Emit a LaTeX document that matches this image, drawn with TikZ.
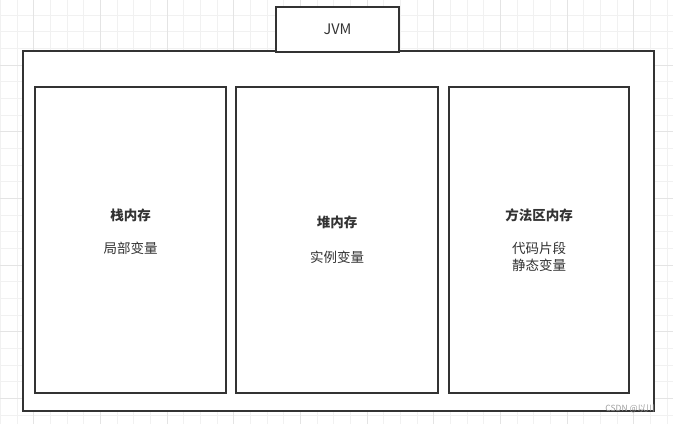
\documentclass[tikz,border=0pt]{standalone}
\usepackage{fontspec}
\setmainfont{Noto Sans CJK SC}
\usetikzlibrary{positioning}
\definecolor{edge}{HTML}{333333}
\definecolor{gridminor}{HTML}{F1F1F1}
\definecolor{gridmajor}{HTML}{E4E4E4}
\tikzset{
  frame/.style={rectangle, draw=edge, line width=1.6pt, fill=white, inner sep=0pt},
  title/.style={font=\fontsize{13.5}{16}\selectfont\bfseries, text=edge, align=center},
  memo/.style={font=\fontsize{13.5}{17}\selectfont, text=edge, align=center},
  minor/.style={gridminor, line width=0.8pt},
  major/.style={gridmajor, line width=0.8pt},
}

\begin{document}
\begin{tikzpicture}[x=1pt, y=-1pt]
\useasboundingbox (0,0) rectangle (673,424);
% ---- background grid ----
\fill[white] (0,0) rectangle (673,424);
\foreach \i in {0,...,40} \draw[minor] ({0.3+16.67*\i},0) -- ++(0,424);
\foreach \i in {0,...,26} \draw[minor] (0,{-1.7+16.67*\i}) -- ++(673,0);
\foreach \i in {0,...,10} \draw[major] ({33.6+66.68*\i},0) -- ++(0,424);
\foreach \i in {0,...,6} \draw[major] (0,{-1.7+66.68*\i}) -- ++(673,0);
% ---- JVM frame ----
\node[frame, minimum width=631, minimum height=360] (jvmbody) at (338.5,231) {};
\node[frame, minimum width=123, minimum height=45, font=\fontsize{14.5}{17}\selectfont, text=edge] (jvm) at (337.5,29.5) {JVM};
% ---- memory areas ----
\node[frame, minimum width=191, minimum height=306] (stack) at (130.5,240) {};
\node[frame, minimum width=202, minimum height=306] (heap) at (337,240) {};
\node[frame, minimum width=180, minimum height=306] (method) at (539,240) {};
\node[title] (stacktitle) at (130.5,215) {栈内存};
\node[memo] (stacktext) at (130.5,248) {局部变量};
\node[title] (heaptitle) at (337,222) {堆内存};
\node[memo] (heaptext) at (337,257) {实例变量};
\node[title] (methodtitle) at (539,215) {方法区内存};
\node[memo] (methodtext) at (539,257) {代码片段\\静态变量};
% watermark
\node[font=\fontsize{8.5}{9}\selectfont, text=gray!75] (mark) at (630,409) {CSDN @以川};
\end{tikzpicture}
\end{document}
